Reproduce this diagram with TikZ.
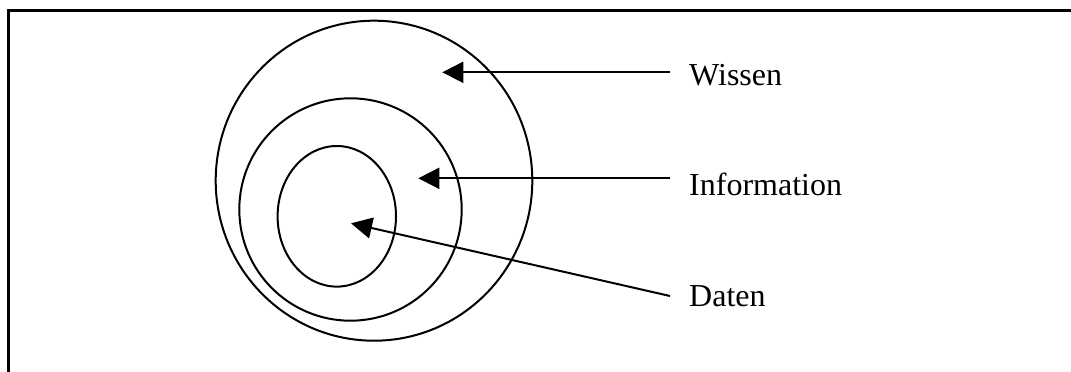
\documentclass[tikz,border=0pt]{standalone}
\usepackage{fontspec}
\setmainfont{Liberation Serif}
\usetikzlibrary{arrows.meta}

\begin{document}
\begin{tikzpicture}[
      x=1pt, y=-1pt,
      ring/.style={draw, line width=2pt},
      pointer/.style={
        line width=2pt,
        -{Triangle[length=21pt, width=21pt]}
      },
      lbl/.style={
        anchor=base west, inner sep=0pt,
        font=\fontsize{32}{36}\selectfont
      }
    ]
      \useasboundingbox (0,0) rectangle (1071,372);
      % frame
      \draw[line width=3pt] (8,380) -- (8,10) -- (1080,10);

      % rings
      \draw[ring] (374,180.7) ellipse [x radius=158.3, y radius=160];
      \draw[ring] (350.5,209.5) ellipse [x radius=111.2, y radius=111.2];
      \draw[ring] (336.8,216.3) ellipse [x radius=59.2, y radius=70.3];

      % labels
      \foreach \name/\txt/\base in {wissen/Wissen/85,information/Information/195,daten/Daten/306} {
        \node[lbl] (\name) at (689,\base){\txt};
      }

      \coordinate (wissenS) at (670,72.3);
      \coordinate (wissenT) at (442.3,72.3);
      \coordinate (informationS) at (670,178.3);
      \coordinate (informationT) at (418.3,178.3);
      \coordinate (datenS) at (670,296);
      \coordinate (datenT) at (351,223.3);

      \draw[pointer] (wissenS) -- (wissenT);
      \draw[pointer] (informationS) -- (informationT);
      \draw[pointer] (datenS) -- (datenT);
    \end{tikzpicture}
\end{document}
